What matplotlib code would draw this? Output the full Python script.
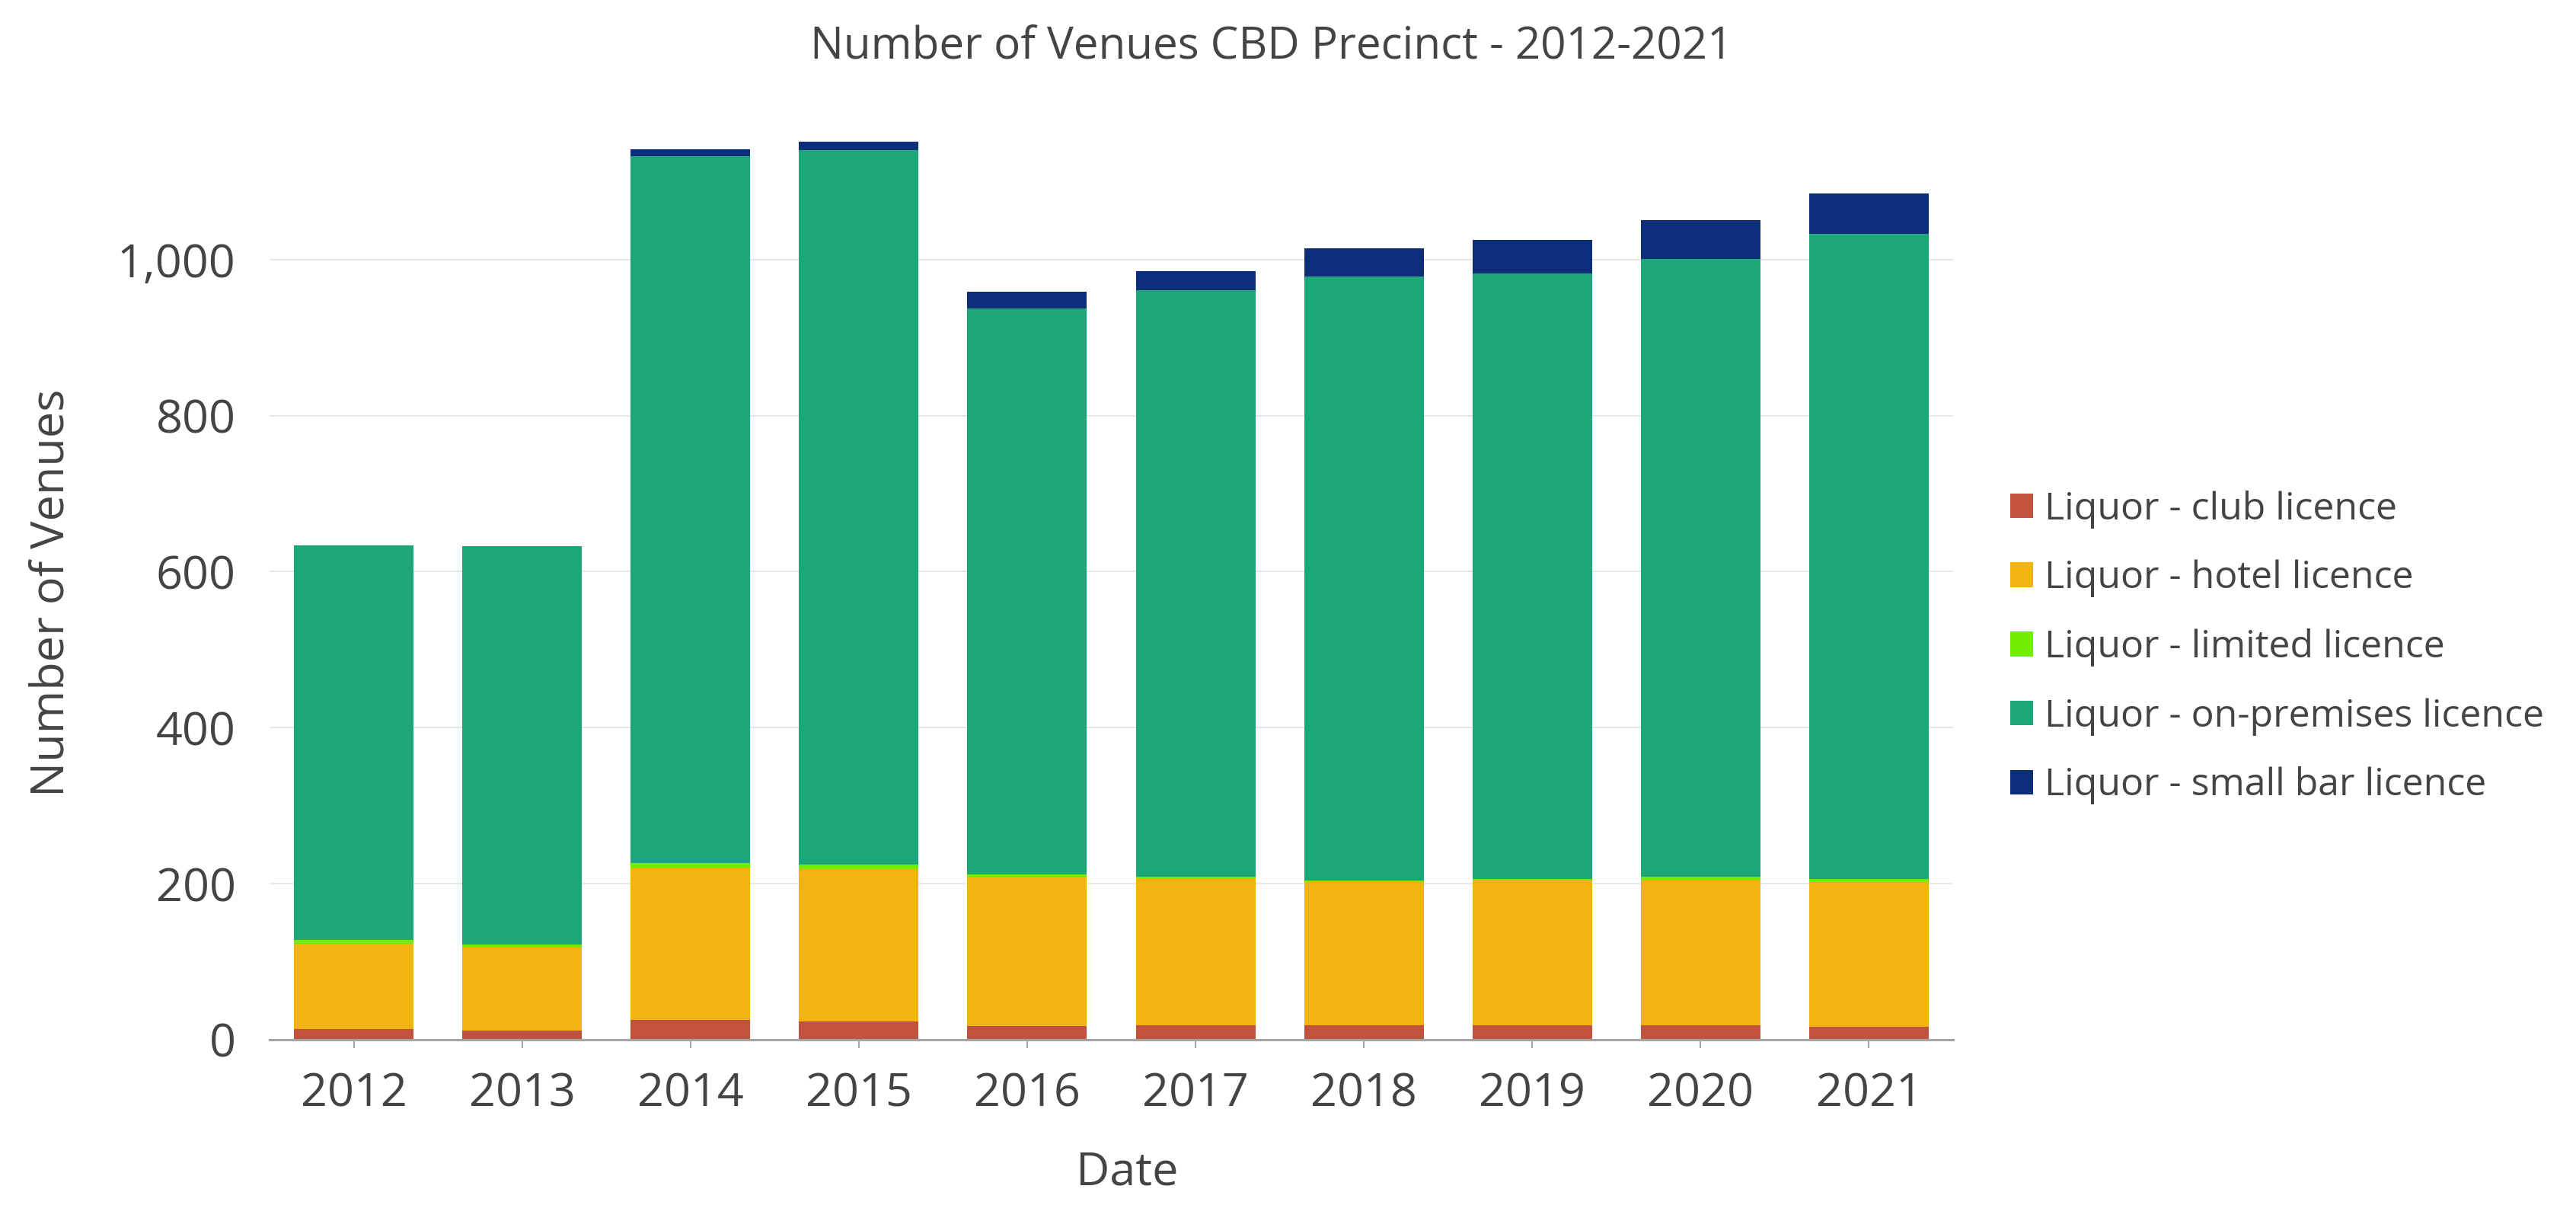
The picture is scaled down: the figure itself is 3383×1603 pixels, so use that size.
import matplotlib.pyplot as plt
import numpy as np
from matplotlib.ticker import FuncFormatter

plt.rcParams['font.family'] = ['Open Sans', 'DejaVu Sans']

years = ["2012", "2013", "2014", "2015", "2016", "2017", "2018", "2019", "2020", "2021"]
club = [14, 12, 25, 23, 18, 19, 19, 19, 19, 17]
hotel = [109, 106, 195, 196, 191, 188, 183, 185, 185, 185]
limited = [5, 4, 6, 6, 3, 2, 2, 2, 5, 4]
on_premises = [506, 511, 906, 915, 725, 752, 774, 776, 792, 827]
small_bar = [0, 0, 9, 11, 22, 24, 36, 43, 49, 52]

series = [
    ("Liquor - club licence", club, "#C1533E"),
    ("Liquor - hotel licence", hotel, "#F1B30F"),
    ("Liquor - limited licence", limited, "#72EC00"),
    ("Liquor - on-premises licence", on_premises, "#1CA77A"),
    ("Liquor - small bar licence", small_bar, "#0B2D7A"),
]

text_color = "#444444"
W, H = 3383, 1603
fig = plt.figure(figsize=(W / 100, H / 100), dpi=100)
ax = fig.add_axes([354 / W, 1 - 1365 / H, (2565 - 354) / W, (1365 - 146) / H])

x = np.arange(len(years))
bottom = np.zeros(len(years))
for name, vals, color in series:
    vals = np.array(vals, dtype=float)
    ax.bar(x, vals, width=0.71, bottom=bottom, color=color, label=name, zorder=3)
    bottom += vals

ax.set_xlim(-0.5, len(years) - 0.5)
ax.set_ylim(0, 1190)
ax.set_yticks([0, 200, 400, 600, 800, 1000])
ax.yaxis.set_major_formatter(FuncFormatter(lambda v, p: f"{int(v):,}"))
ax.set_xticks(x)
ax.set_xticklabels(years)

ax.grid(axis="y", color="#e8e8e8", linewidth=1.5, zorder=0)
for s in ["top", "right", "left"]:
    ax.spines[s].set_visible(False)
ax.spines["bottom"].set_color("#a6a6a6")
ax.spines["bottom"].set_linewidth(2.2)
ax.spines["bottom"].set_zorder(4)

ax.tick_params(axis="y", length=0, pad=32, labelsize=44, labelcolor=text_color)
ax.tick_params(axis="x", length=8, width=1.5, color="#a6a6a6", pad=22,
               labelsize=44, labelcolor=text_color)

fig.text(68 / W, 1 - 778 / H, "Number of Venues", rotation=90, ha="center", va="center",
         fontsize=44, color=text_color)
fig.text(1480 / W, 1 - 1540 / H, "Date", ha="center", va="center",
         fontsize=44, color=text_color)
fig.text(1670 / W, 1 - 62 / H, "Number of Venues CBD Precinct - 2012-2021",
         ha="center", va="center", fontsize=42, color=text_color)

leg = fig.legend(loc="center left", bbox_to_anchor=(2640 / W, 1 - 850 / H),
                 frameon=False, fontsize=36, handlelength=0.6, handleheight=0.62,
                 handletextpad=0.3, labelspacing=0.82, borderpad=0, borderaxespad=0)
for t in leg.get_texts():
    t.set_color(text_color)

fig.savefig("out.png", dpi=100, facecolor="white")
